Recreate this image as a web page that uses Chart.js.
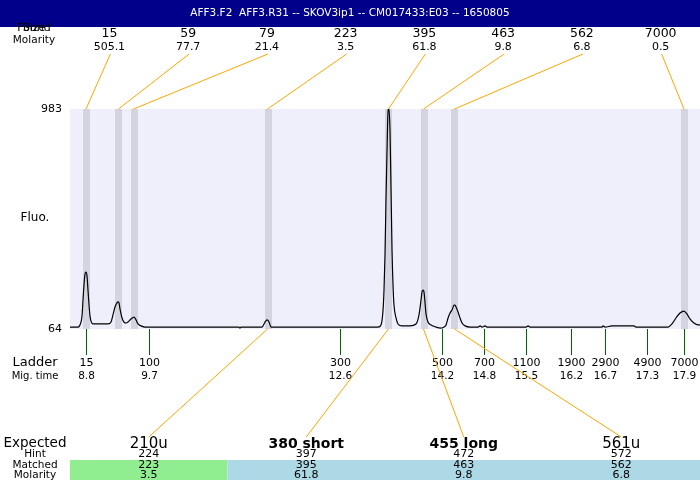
<!DOCTYPE html>
<html>
<head>
<meta charset="utf-8">
<script src="https://cdn.jsdelivr.net/npm/chart.js@4"></script>
<style>
  body { margin: 0; background: #fff; }
  canvas { display: block; }
</style>
</head>
<body>
<canvas id="trace" width="700" height="480"></canvas>
<script>
// 标题
const title = 'AFF3.F2  AFF3.R31 -- SKOV3ip1 -- CM017433:E03 -- 1650805';

// 检出的峰
const foundSize = ['15', '59', '79', '223', '395', '463', '562', '7000'];
const foundMolarity = ['505.1', '77.7', '21.4', '3.5', '61.8', '9.8', '6.8', '0.5'];
const foundTime = [8.794, 9.289, 9.518, 11.560, 13.403, 13.937, 14.409, 17.906];

// ladder
const ladderSize = ['15', '100', '300', '500', '700', '1100', '1900', '2900', '4900', '7000'];
const ladderTime = [8.80, 9.75, 12.66, 14.22, 14.86, 15.50, 16.18, 16.70, 17.34, 17.90];
const ladderTimeLabel = ['8.8', '9.7', '12.6', '14.2', '14.8', '15.5', '16.2', '16.7', '17.3', '17.9'];

// 预期片段
const expectedName = ['210u', '380 short', '455 long', '561u'];
const hintSize = ['224', '397', '472', '572'];
const matchedSize = ['223', '395', '463', '562'];
const matchedMolarity = ['3.5', '61.8', '9.8', '6.8'];
const matchedPeak = [3, 4, 5, 6];

// 荧光曲线
const traceTime = [8.55, 8.672, 8.702, 8.733, 8.748, 8.763, 8.779, 8.794, 8.809, 8.824,
  8.840, 8.855, 8.870, 8.900, 9.007, 9.129, 9.175, 9.205, 9.236, 9.266,
  9.282, 9.297, 9.312, 9.343, 9.373, 9.403, 9.434, 9.480, 9.525, 9.556,
  9.586, 9.632, 9.693, 10.531, 11.125, 11.140, 11.156, 11.476, 11.522, 11.552,
  11.583, 11.613, 12.055, 12.664, 13.243, 13.289, 13.320, 13.335, 13.350, 13.365,
  13.381, 13.396, 13.404, 13.411, 13.426, 13.442, 13.457, 13.472, 13.487, 13.518,
  13.548, 13.609, 13.731, 13.822, 13.868, 13.899, 13.914, 13.929, 13.944, 13.960,
  13.975, 14.005, 14.051, 14.127, 14.204, 14.250, 14.280, 14.311, 14.341, 14.371,
  14.402, 14.417, 14.432, 14.463, 14.493, 14.524, 14.570, 14.646, 14.768, 14.798,
  14.829, 14.875, 14.905, 15.499, 15.530, 15.560, 16.657, 16.672, 16.703, 16.809,
  16.839, 17.144, 17.174, 17.662, 17.723, 17.784, 17.845, 17.906, 17.951, 17.997,
  18.058, 18.119, 18.150];
const traceFluo = [72, 72, 81, 118, 185, 248, 294, 302, 286, 227,
  164, 118, 97, 85, 85, 85, 93, 123, 156, 173,
  177, 173, 148, 110, 93, 89, 93, 106, 114, 102,
  85, 77, 72, 72, 72, 68, 72, 72, 93, 102,
  93, 72, 72, 72, 72, 81, 143, 227, 373, 603,
  813, 972, 983, 983, 896, 645, 394, 248, 164, 110,
  85, 77, 77, 85, 123, 185, 219, 227, 219, 173,
  127, 93, 81, 72, 68, 72, 81, 110, 131, 143,
  164, 164, 156, 135, 110, 89, 77, 72, 72, 77,
  72, 77, 72, 72, 77, 72, 72, 77, 72, 77,
  77, 77, 72, 72, 85, 110, 131, 139, 127, 106,
  89, 81, 81];

const fluoMin = 64;
const fluoMax = 983;

const FONT = '"DejaVu Sans", sans-serif';

// 写文字
function text(ctx, str, x, y, size, opts = {}) {
    ctx.font = (opts.bold ? 'bold ' : '') + size + 'px ' + FONT;
    ctx.fillStyle = opts.color || '#000';
    ctx.textAlign = opts.align || 'center';
    ctx.textBaseline = 'middle';
    ctx.fillText(str, x, y);
}

function line(ctx, x1, y1, x2, y2, color) {
    ctx.strokeStyle = color;
    ctx.lineWidth = 1;
    ctx.beginPath();
    ctx.moveTo(x1, y1);
    ctx.lineTo(x2, y2);
    ctx.stroke();
}

// 背景和峰的灰条
const backdrop = {
    id: 'backdrop',
    beforeDatasetsDraw(chart) {
        const { ctx, chartArea: a, scales } = chart;
        ctx.save();
        ctx.fillStyle = '#efeffc';
        ctx.fillRect(a.left, a.top, a.right - a.left, a.bottom - a.top);
        ctx.fillStyle = '#d4d4e0';
        foundTime.forEach(t => {
            const x = Math.round(scales.x.getPixelForValue(t));
            ctx.fillRect(x - 3, a.top, 7, a.bottom - a.top);
        });
        ctx.restore();
    }
};

// 其余标注
const annotations = {
    id: 'annotations',
    afterDraw(chart) {
        const { ctx, chartArea: a, scales } = chart;
        const w = a.right - a.left;
        ctx.save();

        // 标题栏
        ctx.fillStyle = '#00008b';
        ctx.fillRect(0, 0, chart.width, 27);
        text(ctx, title, 350, 13.5, 10.5, { color: '#fff' });

        // 顶部：大小和摩尔浓度
        text(ctx, 'Size', 34, 28, 11);
        text(ctx, 'Found', 34, 28, 11);
        text(ctx, 'Molarity', 34, 40, 10.5);
        const colW = w / foundSize.length;
        foundSize.forEach((s, i) => {
            const cx = a.left + (i + 0.5) * colW;
            text(ctx, s, cx, 34, 12.5);
            text(ctx, foundMolarity[i], cx, 47, 11);
            const px = scales.x.getPixelForValue(foundTime[i]);
            line(ctx, cx + 1, 54, px, a.top, '#ffa500');
        });

        // y轴
        text(ctx, String(fluoMax), 62, scales.y.getPixelForValue(fluoMax), 11, { align: 'right' });
        text(ctx, String(fluoMin), 62, scales.y.getPixelForValue(fluoMin), 11, { align: 'right' });
        text(ctx, 'Fluo.', 35, 218, 12);

        // ladder
        text(ctx, 'Ladder', 35, 363, 13);
        text(ctx, 'Mig. time', 35, 376, 10);
        ladderSize.forEach((s, i) => {
            const x = Math.round(scales.x.getPixelForValue(ladderTime[i])) + 0.5;
            line(ctx, x, a.bottom, x, a.bottom + 26, '#006400');
            text(ctx, s, x, 363, 11);
            text(ctx, ladderTimeLabel[i], x, 376, 10.5);
        });

        // 底部表格
        const colW2 = w / expectedName.length;
        ctx.fillStyle = '#90ee90';
        ctx.fillRect(a.left, 460, colW2, 20);
        ctx.fillStyle = '#add8e6';
        ctx.fillRect(a.left + colW2, 460, w - colW2, 20);
        text(ctx, 'Expected', 35, 443, 13.5);
        text(ctx, 'Hint', 35, 454, 10.5);
        text(ctx, 'Matched', 35, 465, 10.5);
        text(ctx, 'Molarity', 35, 475, 10.5);
        expectedName.forEach((name, i) => {
            const cx = a.left + (i + 0.5) * colW2;
            const bold = name.indexOf(' ') > 0;
            text(ctx, name, cx, 444, bold ? 14 : 15, { bold });
            text(ctx, hintSize[i], cx, 454, 11);
            text(ctx, matchedSize[i], cx, 465, 11);
            text(ctx, matchedMolarity[i], cx, 475, 11);
            const px = scales.x.getPixelForValue(foundTime[matchedPeak[i]]);
            line(ctx, cx, 437, px, a.bottom, '#ffa500');
        });

        ctx.restore();
    }
};

new Chart(document.getElementById('trace').getContext('2d'), {
    type: 'line',
    data: {
        datasets: [{
            data: traceTime.map((t, i) => ({ x: t, y: traceFluo[i] })),
            borderColor: '#000',
            borderWidth: 1.2,
            pointRadius: 0,
            cubicInterpolationMode: 'monotone',
            fill: false
        }]
    },
    options: {
        responsive: false,
        animation: false,
        layout: { padding: { left: 70, right: 0, top: 109, bottom: 151 } },
        plugins: {
            legend: { display: false },
            tooltip: { enabled: false }
        },
        scales: {
            x: { type: 'linear', display: false, min: 8.55, max: 18.15 },
            y: { display: false, min: fluoMin, max: fluoMax }
        }
    },
    plugins: [backdrop, annotations]
});
</script>
</body>
</html>
